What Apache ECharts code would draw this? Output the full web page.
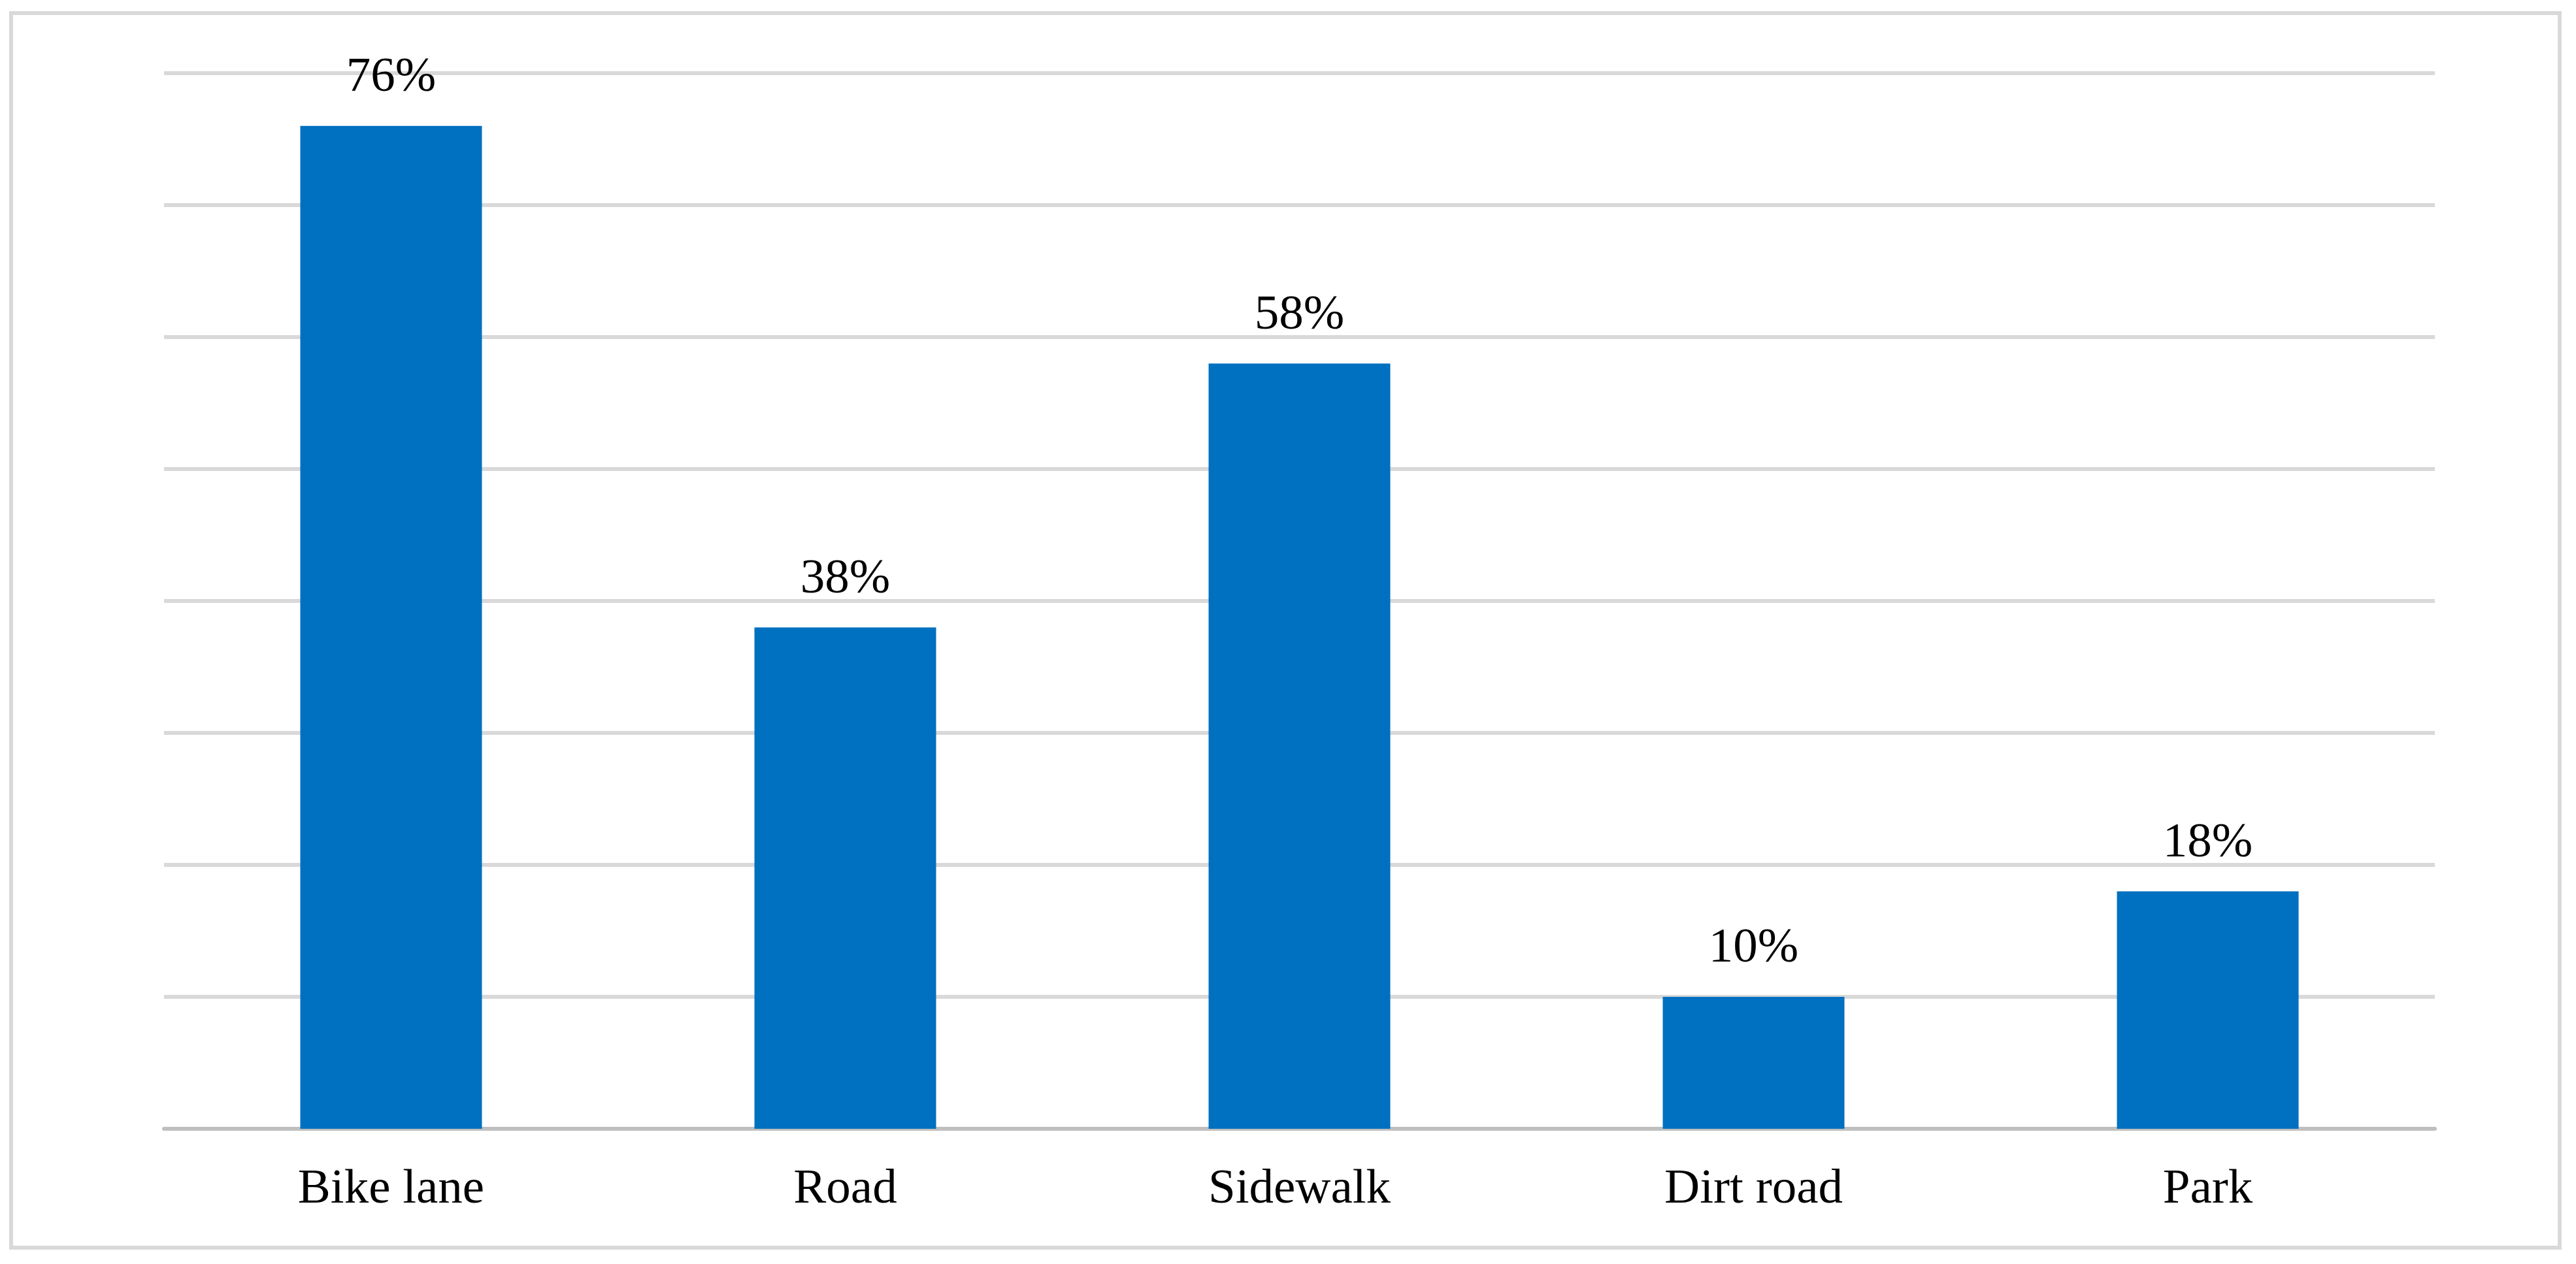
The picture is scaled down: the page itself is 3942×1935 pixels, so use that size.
<!DOCTYPE html>
<html>
<head>
<meta charset="utf-8">
<script src="https://cdn.jsdelivr.net/npm/echarts@6/dist/echarts.min.js"></script>
<style>
html,body{margin:0;padding:0;background:#fff;}
#c{width:3942px;height:1935px;}
</style>
</head>
<body>
<div id="c"></div>
<script>
var categories = ['Bike lane', 'Road', 'Sidewalk', 'Dirt road', 'Park'];
var values = [76, 38, 58, 10, 18];

var chart = echarts.init(document.getElementById('c'), null, {renderer: 'canvas'});
var font = '"Liberation Serif", "Times New Roman", serif';
chart.setOption({
  animation: false,
  backgroundColor: '#fff',
  graphic: [{
    type: 'rect',
    shape: {x: 17, y: 20, width: 3900, height: 1890},
    style: {fill: 'none', stroke: '#d9d9d9', lineWidth: 6},
    silent: true
  }],
  grid: {left: 251, right: 216, top: 112, bottom: 207, containLabel: false},
  xAxis: {
    type: 'category',
    data: categories,
    axisLine: {show: true, lineStyle: {color: '#bfbfbf', width: 6}},
    axisTick: {show: false},
    axisLabel: {color: '#000', fontFamily: font, fontSize: 75, margin: 56}
  },
  yAxis: {
    type: 'value',
    min: 0, max: 80, interval: 10,
    axisLine: {show: false},
    axisTick: {show: false},
    axisLabel: {show: false},
    splitLine: {show: true, lineStyle: {color: '#d9d9d9', width: 6}}
  },
  series: [{
    type: 'bar',
    data: values,
    barWidth: '40%',
    itemStyle: {color: '#0070c0'},
    label: {
      show: true,
      position: 'top',
      distance: 36,
      formatter: '{c}%',
      color: '#000',
      fontFamily: font,
      fontSize: 75
    }
  }]
});
</script>
</body>
</html>
